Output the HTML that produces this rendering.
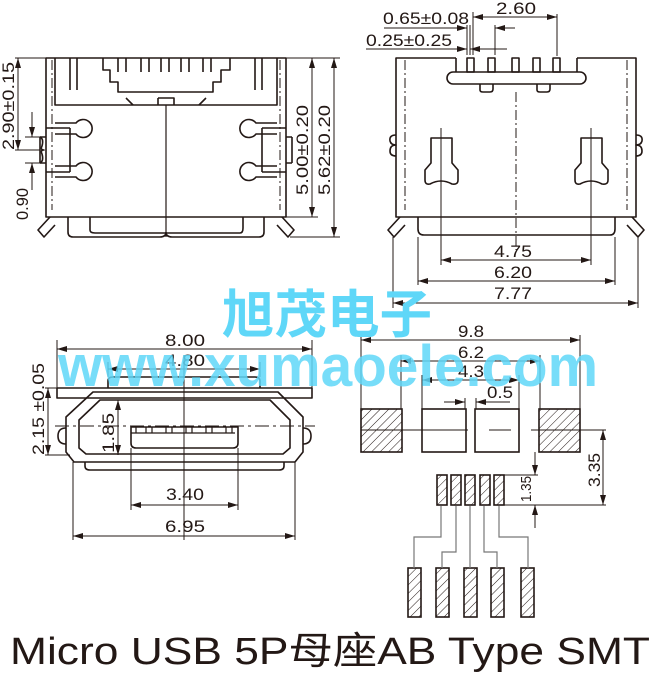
<!DOCTYPE html>
<html><head><meta charset="utf-8"><style>
html,body{margin:0;padding:0;background:#fff;width:656px;height:678px;overflow:hidden}
svg{display:block}
text{font-family:"Liberation Sans","Noto Sans CJK SC",sans-serif;fill:#231815}
</style></head><body>
<svg width="656" height="678" viewBox="0 0 656 678" xmlns="http://www.w3.org/2000/svg">
<defs>
<marker id="a" viewBox="0 0 10 6" refX="10" refY="3" markerWidth="10" markerHeight="6" orient="auto-start-reverse" markerUnits="userSpaceOnUse"><path d="M0,0L10,3L0,6z" fill="#231815"/></marker>
<pattern id="h" width="6" height="6" patternUnits="userSpaceOnUse" patternTransform="rotate(45)"><line x1="0" y1="0" x2="0" y2="6" stroke="#231815" stroke-width="1"/></pattern>
</defs>
<g fill="none" stroke="#231815" stroke-width="1.6" stroke-linejoin="round">
<rect x="46" y="58" width="240" height="159"/>
<path d="M55 58V105H277V58"/>
<path d="M70 58V90M77 58V90M262 58V90M255 58V90"/>
<path d="M103 58V70H110V82H118V92H213V82H221V70H230V58"/>
<path d="M118 58V72M126 58V72M141 58V72M149 58V72M161 58V72M169 58V72M181 58V72M189 58V72M203 58V72M211 58V72"/>
<path d="M126 98L133 105M206 98L199 105M158 98H174V105M158 98V105"/>
<line x1="166" y1="105" x2="166" y2="237" stroke-width="1.2"/>
<path d="M46 128H70M46 172H70M70 128V172"/>
<path d="M40 137Q44 139 42 146Q40 150 44 150Q40 150 42 154Q44 161 40 163"/>
<path d="M40 137V163M40 137H46M40 163H46"/>
<path d="M55 123H76A9 9 0 1 1 76 134H55"/>
<path d="M55 166H76A9 9 0 1 1 76 177H55"/>
<path d="M277 123H256A9 9 0 1 0 256 134H277"/>
<path d="M277 166H256A9 9 0 1 0 256 177H277"/>
<path d="M286 128H262M286 172H262M262 128V172M292 137V163M286 137H292M286 163H292"/>
<path d="M68 217V232Q68 237 73 237H160Q166 237 166 232M264 217V232Q264 237 259 237H172Q166 237 166 232"/>
<path d="M90 217V230Q90 233 95 233H240Q243 233 243 228V217"/>
<path d="M50 217L38 230L44 237L55 225M282 217L294 230L288 237L277 225"/>
<path d="M52 60V210M280 60V210" stroke-width="1" stroke-dasharray="10 3 2 3"/>
</g>
<g stroke="#231815" stroke-width="1" fill="none">
<line x1="15" y1="58" x2="46" y2="58"/>
<line x1="18" y1="58" x2="18" y2="150" marker-start="url(#a)" marker-end="url(#a)"/>
<line x1="15" y1="150" x2="40" y2="150"/>
<line x1="25" y1="137" x2="40" y2="137"/><line x1="25" y1="163" x2="40" y2="163"/>
<line x1="32" y1="112" x2="32" y2="137" marker-end="url(#a)"/>
<line x1="32" y1="190" x2="32" y2="163" marker-end="url(#a)"/>
<line x1="286" y1="58" x2="340" y2="58"/>
<line x1="286" y1="217" x2="318" y2="217"/>
<line x1="290" y1="237" x2="340" y2="237"/>
<line x1="312" y1="58" x2="312" y2="217" marker-start="url(#a)" marker-end="url(#a)"/>
<line x1="334" y1="58" x2="334" y2="237" marker-start="url(#a)" marker-end="url(#a)"/>
</g>
<g font-size="17">
<text transform="translate(14,150) rotate(-90)" textLength="88" lengthAdjust="spacingAndGlyphs">2.90±0.15</text>
<text transform="translate(28,220) rotate(-90)" textLength="32" lengthAdjust="spacingAndGlyphs">0.90</text>
<text transform="translate(308,195) rotate(-90)" textLength="90" lengthAdjust="spacingAndGlyphs">5.00±0.20</text>
<text transform="translate(330,195) rotate(-90)" textLength="90" lengthAdjust="spacingAndGlyphs">5.62±0.20</text>
</g>
<g fill="none" stroke="#231815" stroke-width="1.6" stroke-linejoin="round">
<path d="M456 58H396V217H636V58H577"/>
<path d="M456 58V72M577 58V72"/>
<rect x="447" y="72" width="139" height="12" rx="6"/>
<rect x="467" y="58" width="7" height="14"/><rect x="488" y="58" width="7" height="14"/><rect x="512" y="58" width="7" height="14"/><rect x="533" y="58" width="7" height="14"/><rect x="553" y="58" width="7" height="14"/>
<path d="M480 84V90Q480 92 483 92H490Q493 92 493 89V84M537 84V90Q537 92 540 92H547Q550 92 550 89V84"/>
<path d="M432 138H452V163L458 170V180Q458 185 452 184Q441 178 430 184Q425 185 425 180V170L431 163V138Z"/>
<path d="M582 138H602V163L608 170V180Q608 185 602 184Q591 178 580 184Q575 185 575 180V170L581 163V138Z"/>
<path d="M396 135Q389 135 390 141Q391 145 396 145Q390 145 390 151Q390 156 396 156"/>
<path d="M636 135Q643 135 642 141Q641 145 636 145Q642 145 642 151Q642 156 636 156"/>
<path d="M418 217V229Q418 235 424 235H610Q615 235 615 229V217"/>
<path d="M400 217L388 230L394 237L405 225M632 217L644 230L638 237L627 225"/>
<path d="M405 60V210M627 60V210M516 92V250" stroke-width="1" stroke-dasharray="10 3 2 3"/>
<path d="M441 128V265M591 128V265" stroke-width="1"/>
</g>
<g stroke="#231815" stroke-width="1" fill="none">
<line x1="473" y1="12" x2="473" y2="55"/><line x1="557" y1="14" x2="557" y2="56"/>
<line x1="473" y1="17" x2="557" y2="17" marker-start="url(#a)" marker-end="url(#a)"/>
<line x1="384" y1="28" x2="467" y2="28"/>
<line x1="455" y1="28" x2="467" y2="28" marker-end="url(#a)"/>
<line x1="495" y1="28" x2="515" y2="28" marker-start="url(#a)"/>
<line x1="467" y1="25" x2="467" y2="55"/><line x1="470" y1="25" x2="470" y2="55"/><line x1="495" y1="25" x2="495" y2="55"/>
<line x1="366" y1="49" x2="467" y2="49" marker-end="url(#a)"/>
<line x1="470" y1="49" x2="507" y2="49" marker-start="url(#a)"/>
<line x1="418" y1="237" x2="418" y2="285"/><line x1="615" y1="237" x2="615" y2="285"/>
<line x1="393" y1="237" x2="393" y2="308"/><line x1="638" y1="237" x2="638" y2="308"/>
<line x1="441" y1="260" x2="591" y2="260" marker-start="url(#a)" marker-end="url(#a)"/>
<line x1="418" y1="281" x2="615" y2="281" marker-start="url(#a)" marker-end="url(#a)"/>
<line x1="393" y1="303" x2="638" y2="303" marker-start="url(#a)" marker-end="url(#a)"/>
</g>
<g font-size="17">
<text x="496" y="14" textLength="40" lengthAdjust="spacingAndGlyphs">2.60</text>
<text x="383" y="24" textLength="86" lengthAdjust="spacingAndGlyphs">0.65±0.08</text>
<text x="366" y="46" textLength="86" lengthAdjust="spacingAndGlyphs">0.25±0.25</text>
<text x="494" y="257" textLength="38" lengthAdjust="spacingAndGlyphs">4.75</text>
<text x="494" y="278" textLength="38" lengthAdjust="spacingAndGlyphs">6.20</text>
<text x="494" y="299" textLength="38" lengthAdjust="spacingAndGlyphs">7.77</text>
</g>
<g fill="none" stroke="#231815" stroke-width="1.6" stroke-linejoin="round">
<rect x="57" y="388" width="255" height="10"/>
<path d="M108 388V381Q108 377 113 377H255Q260 377 260 381V388"/>
<path d="M93 392H278L303 417V452L295 462H74L66 452V417Z"/>
<path d="M100 400H270L290 420V448L283 454H86L79 448V420Z"/>
<path d="M66 428Q58 428 58 436Q58 444 66 444M303 428Q311 428 311 436Q311 444 303 444"/>
<path d="M85 462V466Q85 470 90 470H279Q284 470 284 466V462"/>
<path d="M131 427H238V443Q238 448 233 448H136Q131 448 131 443Z"/>
<path d="M131 433H235M136 427V433M146 427V433M152 427V433M166 427V433M172 427V433M186 427V433M192 427V433M206 427V433M212 427V433M226 427V433M232 427V433" stroke-width="1.2"/>
</g>
<g stroke="#231815" stroke-width="1" fill="none">
<line x1="57" y1="340" x2="57" y2="388"/><line x1="312" y1="340" x2="312" y2="388"/>
<line x1="57" y1="349" x2="312" y2="349" marker-start="url(#a)" marker-end="url(#a)"/>
<line x1="108" y1="362" x2="108" y2="377"/><line x1="260" y1="362" x2="260" y2="377"/>
<line x1="108" y1="369" x2="260" y2="369" marker-start="url(#a)" marker-end="url(#a)"/>
<line x1="184" y1="355" x2="184" y2="540"/>
<line x1="55" y1="426" x2="315" y2="426" stroke-dasharray="14 4 3 4"/>
<line x1="45" y1="388" x2="57" y2="388"/><line x1="45" y1="455" x2="70" y2="455"/>
<line x1="48" y1="388" x2="48" y2="455" marker-start="url(#a)" marker-end="url(#a)"/>
<line x1="118" y1="400" x2="118" y2="455" marker-start="url(#a)" marker-end="url(#a)"/>
<line x1="131" y1="448" x2="131" y2="510"/><line x1="238" y1="448" x2="238" y2="510"/>
<line x1="131" y1="505" x2="238" y2="505" marker-start="url(#a)" marker-end="url(#a)"/>
<line x1="73" y1="462" x2="73" y2="540"/><line x1="295" y1="462" x2="295" y2="540"/>
<line x1="73" y1="536" x2="295" y2="536" marker-start="url(#a)" marker-end="url(#a)"/>
</g>
<g font-size="17">
<text x="165" y="346" textLength="40" lengthAdjust="spacingAndGlyphs">8.00</text>
<text x="165" y="366" textLength="40" lengthAdjust="spacingAndGlyphs">4.80</text>
<text transform="translate(44,455) rotate(-90)" textLength="92" lengthAdjust="spacingAndGlyphs">2.15 ±0.05</text>
<text transform="translate(114,453) rotate(-90)" textLength="40" lengthAdjust="spacingAndGlyphs">1.85</text>
<text x="166" y="500" textLength="38" lengthAdjust="spacingAndGlyphs">3.40</text>
<text x="165" y="532" textLength="40" lengthAdjust="spacingAndGlyphs">6.95</text>
</g>
<g stroke="#231815" stroke-width="1.6">
<rect x="361" y="409" width="41" height="43" fill="url(#h)"/>
<rect x="539" y="409" width="41" height="43" fill="url(#h)"/>
<rect x="422" y="409" width="44" height="43" fill="#fff"/>
<rect x="475" y="409" width="44" height="43" fill="#fff"/>
<rect x="437" y="475" width="10" height="30" fill="url(#h)"/>
<rect x="451" y="475" width="10" height="30" fill="url(#h)"/>
<rect x="465" y="475" width="10" height="30" fill="url(#h)"/>
<rect x="480" y="475" width="10" height="30" fill="url(#h)"/>
<rect x="494" y="475" width="10" height="30" fill="url(#h)"/>
<rect x="408" y="568" width="13" height="49" fill="url(#h)"/>
<rect x="436" y="568" width="13" height="49" fill="url(#h)"/>
<rect x="464" y="568" width="13" height="49" fill="url(#h)"/>
<rect x="491" y="568" width="13" height="49" fill="url(#h)"/>
<rect x="521" y="568" width="13" height="49" fill="url(#h)"/>
</g>
<g stroke="#777" stroke-width="1.2" fill="none">
<path d="M441 506V537H414V568M456 506V552H442V568M470 506V568M484 506V552H497V568M499 506V537H528V568"/>
</g>
<g stroke="#231815" stroke-width="1" fill="none">
<line x1="361" y1="335" x2="361" y2="409"/><line x1="580" y1="335" x2="580" y2="409"/>
<line x1="361" y1="340" x2="580" y2="340" marker-start="url(#a)" marker-end="url(#a)"/>
<line x1="401" y1="355" x2="401" y2="409"/><line x1="540" y1="355" x2="540" y2="409"/>
<line x1="401" y1="361" x2="540" y2="361" marker-start="url(#a)" marker-end="url(#a)"/>
<line x1="422" y1="375" x2="422" y2="409"/><line x1="519" y1="375" x2="519" y2="409"/>
<line x1="422" y1="380" x2="519" y2="380" marker-start="url(#a)" marker-end="url(#a)"/>
<line x1="465" y1="398" x2="465" y2="409"/><line x1="476" y1="398" x2="476" y2="409"/>
<line x1="444" y1="402" x2="465" y2="402" marker-end="url(#a)"/>
<line x1="510" y1="402" x2="476" y2="402" marker-end="url(#a)"/>
<line x1="361" y1="430" x2="468" y2="430"/><line x1="489" y1="430" x2="511" y2="430"/><line x1="531" y1="430" x2="606" y2="430"/>
<line x1="504" y1="475" x2="538" y2="475"/><line x1="504" y1="505" x2="606" y2="505"/>
<line x1="603" y1="430" x2="603" y2="505" marker-start="url(#a)" marker-end="url(#a)"/>
<line x1="535" y1="452" x2="535" y2="475" marker-end="url(#a)"/>
<line x1="535" y1="528" x2="535" y2="505" marker-end="url(#a)"/>
</g>
<g font-size="17">
<text x="458" y="337" textLength="26" lengthAdjust="spacingAndGlyphs">9.8</text>
<text x="458" y="358" textLength="26" lengthAdjust="spacingAndGlyphs">6.2</text>
<text x="458" y="377" textLength="26" lengthAdjust="spacingAndGlyphs">4.3</text>
<text x="487" y="398" textLength="26" lengthAdjust="spacingAndGlyphs">0.5</text>
<text transform="translate(600,487) rotate(-90)" textLength="34" lengthAdjust="spacingAndGlyphs">3.35</text>
<text transform="translate(531,502) rotate(-90)" textLength="26" lengthAdjust="spacingAndGlyphs" font-size="15">1.35</text>
</g>
<g font-weight="bold">
<text x="222" y="333" font-size="52" textLength="210" lengthAdjust="spacingAndGlyphs" style="fill:#5fd7f8">旭茂电子</text>
<text x="58" y="386" font-size="58" textLength="540" lengthAdjust="spacingAndGlyphs" style="fill:#5fd7f8;fill-opacity:.85">www.xumaoele.com</text>
</g>
<text x="10" y="664" font-size="38" textLength="640" lengthAdjust="spacingAndGlyphs">Micro  USB 5P母座AB Type SMT</text>
</svg>
</body></html>
